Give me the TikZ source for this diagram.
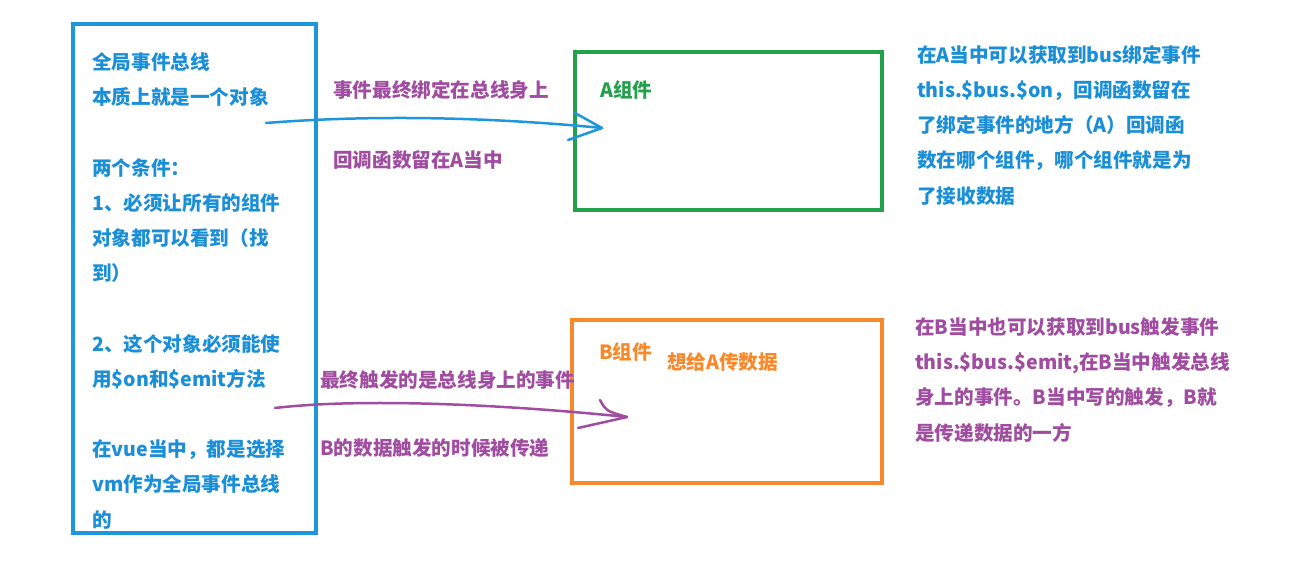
\documentclass[tikz,border=0pt]{standalone}
\usepackage{fontspec}
\setmainfont{Noto Sans CJK SC}
\definecolor{busblue}{HTML}{1E96DC}
\definecolor{txtblue}{HTML}{1A8FD8}
\definecolor{txtpurple}{HTML}{A04CA0}
\definecolor{boxgreen}{HTML}{22A04A}
\definecolor{boxorange}{HTML}{F7892B}
\tikzset{
  txt/.style={font=\fontsize{19.6}{35.2}\selectfont\bfseries, inner sep=0pt, align=left, anchor=base west},
  frame/.style={line width=4pt},
  hand/.style={line width=2.5pt, line cap=round, line join=round}
}
\begin{document}
\begin{tikzpicture}[x=1pt,y=-1pt]
\useasboundingbox[fill=white] (0,0) rectangle (1298,578);
% boxes
\node[frame, draw=busblue, minimum width=243pt, minimum height=509pt, anchor=north west] (bus) at (71,22) {};
\node[frame, draw=boxgreen, minimum width=307pt, minimum height=158pt, anchor=north west] (compA) at (573,50) {};
\node[frame, draw=boxorange, minimum width=310pt, minimum height=163pt, anchor=north west] (compB) at (570,318) {};
% left texts (anchored at the baseline of the last line)
\node[txt, text=txtblue] (bustext) at (92,527) {全局事件总线\\本质上就是一个对象\\[35.2pt]两个条件：\\1、必须让所有的组件\\对象都可以看到（找\\到）\\[35.2pt]2、这个对象必须能使\\用\$on和\$emit方法\\[35.2pt]在vue当中，都是选择\\vm作为全局事件总线\\的};
% middle labels
\node[txt, text=txtpurple] (l1) at (333,97) {事件最终绑定在总线身上};
\node[txt, text=txtpurple] (l2) at (333,167) {回调函数留在A当中};
\node[txt, text=txtpurple] (l3) at (320,387) {最终触发的是总线身上的事件};
\node[txt, text=txtpurple] (l4) at (320,455) {B的数据触发的时候被传递};
% component labels
\node[txt, text=boxgreen] (la) at (600,97) {A组件};
\node[txt, text=boxorange] (lb) at (599,359) {B组件};
\node[txt, text=boxorange] (lb2) at (667,369) {想给A传数据};
% right texts (anchored at the baseline of the last line)
\node[txt, text=txtblue] (ra) at (917,203) {在A当中可以获取到bus绑定事件\\this.\$bus.\$on，回调函数留在\\了绑定事件的地方（A）回调函\\数在哪个组件，哪个组件就是为\\了接收数据};
\node[txt, text=txtpurple] (rb) at (915,440) {在B当中也可以获取到bus触发事件\\this.\$bus.\$emit,在B当中触发总线\\身上的事件。B当中写的触发，B就\\是传递数据的一方};
% arrows
\coordinate (startA) at (266,123);
\coordinate (tipA) at (602,128);
\coordinate (armA1) at (575,113);
\coordinate (armA2) at (568,140);
\draw[hand, busblue] (startA) .. controls (380,114) and (500,118) .. (tipA);
\draw[hand, busblue] (armA1) -- (tipA) -- (armA2);
\coordinate (startB) at (275,408);
\coordinate (tipB) at (627,417);
\coordinate (armB1) at (600,400);
\coordinate (armB2) at (578,428);
\draw[hand, txtpurple] (startB) .. controls (360,398) and (500,404) .. (tipB);
\draw[hand, txtpurple] (armB1) .. controls (606,411) .. (tipB) -- (armB2);
\end{tikzpicture}
\end{document}
